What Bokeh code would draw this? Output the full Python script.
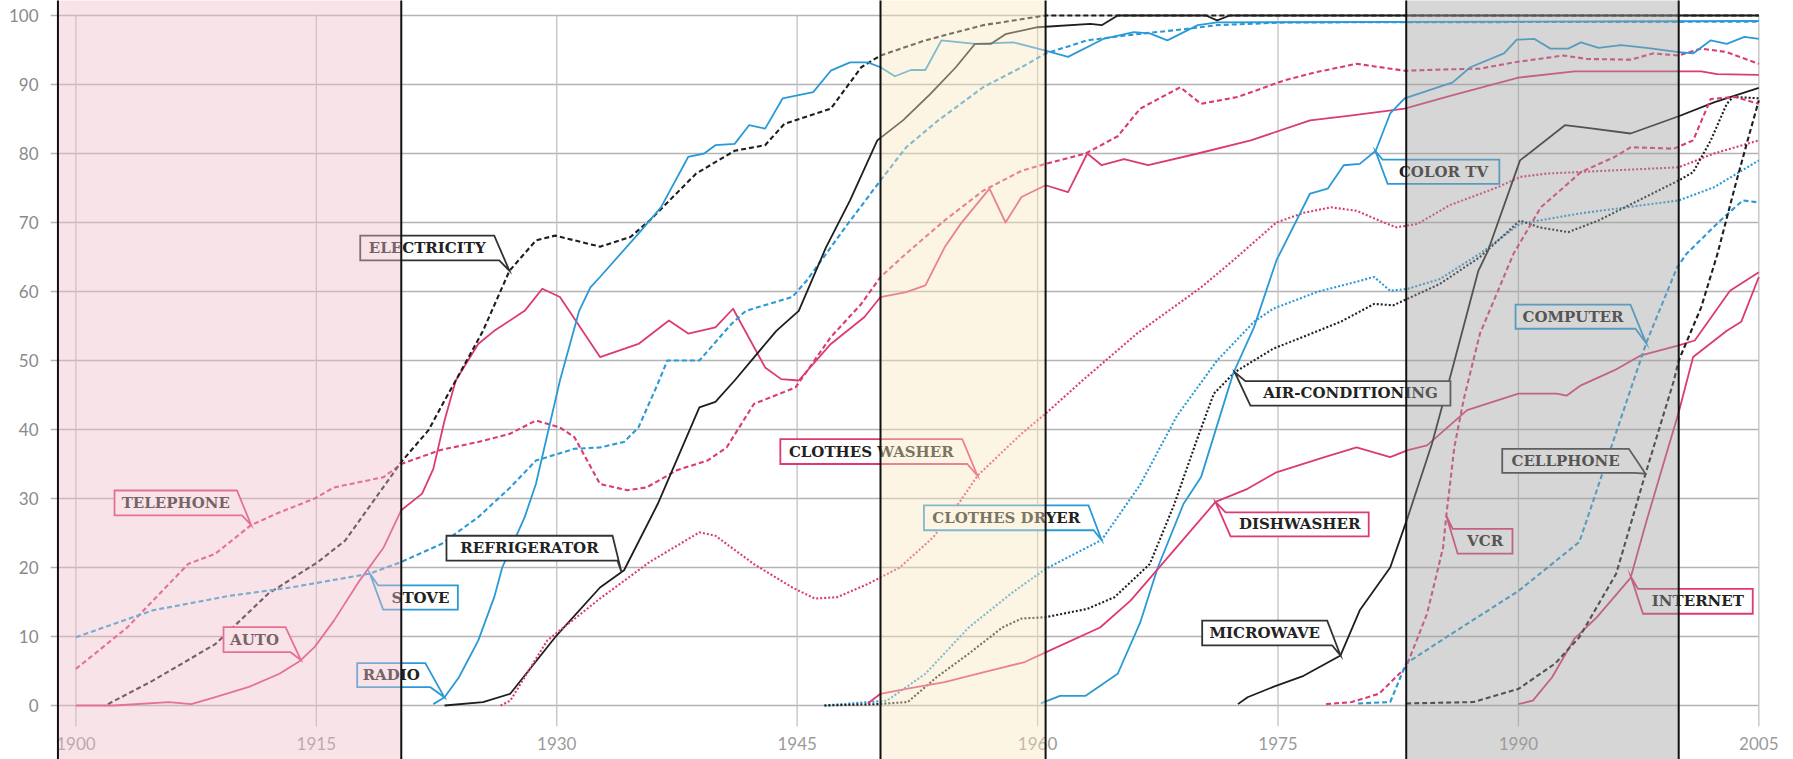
import numpy as np
from bokeh.plotting import figure
from bokeh.models import Range1d, FixedTicker
from bokeh.core.properties import value
from bokeh.embed import file_html
from bokeh.resources import INLINE

# ---------------- data ----------------
YEAR_TICKS = [1900, 1915, 1930, 1945, 1960, 1975, 1990, 2005]
PCT_TICKS = [0, 10, 20, 30, 40, 50, 60, 70, 80, 90, 100]

TELEPHONE = [(1900, 5.3), (1903.2, 11.3), (1907.0, 20.5), (1908.7, 22.0), (1910.9, 26.1), (1912.5, 27.8),
             (1914.9, 30.0), (1916.1, 31.6), (1919.2, 33.1), (1920.3, 35.0), (1922.7, 37.0), (1925.1, 38.2),
             (1927.1, 39.4), (1928.7, 41.3), (1930.2, 40.3), (1931.1, 38.9), (1932.7, 32.1), (1934.4, 31.2),
             (1935.6, 31.6), (1937.5, 34.1), (1939.4, 35.5), (1940.6, 37.4), (1942.3, 43.7), (1944.9, 46.1),
             (1947.1, 53.4), (1949.0, 58.2), (1950.2, 62.1), (1951.8, 65.5), (1954.2, 70.3), (1956.6, 74.6),
             (1959.0, 77.5), (1960.5, 78.5), (1963.0, 80.0), (1965.0, 82.5), (1966.4, 86.5), (1968.9, 89.6),
             (1970.2, 87.2), (1972.5, 88.2), (1975.4, 90.6), (1977.4, 91.8), (1979.9, 93.0), (1982.9, 92.0),
             (1985.8, 92.2), (1987.6, 92.3), (1989.7, 93.2), (1992.8, 94.2), (1994.3, 93.7), (1997.0, 93.6),
             (1998.4, 94.5), (2000.0, 94.2), (2001.4, 95.2), (2003.0, 94.7), (2005, 93.0)]

AUTO = [(1900, 0.0), (1902.4, 0.0), (1905.8, 0.5), (1907.2, 0.2), (1908.7, 1.2), (1910.8, 2.7), (1912.7, 4.6),
        (1914.0, 6.5), (1914.9, 8.5), (1916.1, 12.3), (1917.7, 18.1), (1919.2, 22.9), (1920.3, 28.3),
        (1921.6, 30.7), (1922.3, 34.3), (1923.0, 41.3), (1923.7, 47.1), (1925.1, 52.4), (1926.1, 54.3),
        (1928.0, 57.2), (1929.1, 60.4), (1930.2, 59.2), (1932.7, 50.5), (1935.1, 52.4), (1937.0, 55.8),
        (1938.2, 53.9), (1939.9, 54.8), (1941.0, 57.5), (1943.0, 49.0), (1944.0, 47.3), (1945.1, 47.1),
        (1947.1, 52.4), (1949.2, 56.3), (1950.2, 59.2), (1951.8, 59.9), (1953.0, 60.9), (1954.2, 66.4),
        (1955.2, 69.8), (1957.0, 74.9), (1958.0, 70.0), (1959.0, 73.7), (1960.5, 75.4), (1961.9, 74.4),
        (1963.1, 80.0), (1964.0, 78.3), (1965.4, 79.2), (1966.9, 78.3), (1970.0, 80.0), (1973.3, 81.9),
        (1977.0, 84.8), (1979.5, 85.5), (1982.9, 86.5), (1985.8, 88.4), (1990.0, 91.0), (1993.5, 91.9),
        (2000.0, 91.9), (2001.4, 91.9), (2002.4, 91.5), (2005, 91.4)]

ELECTRICITY = [(1902.0, 0.2), (1904.8, 3.6), (1908.7, 8.9), (1912.0, 16.2), (1915.1, 20.8), (1916.8, 23.9),
               (1920.3, 35.3), (1922.0, 39.9), (1923.0, 44.2), (1923.7, 47.1), (1925.4, 54.3), (1927.05, 63.0),
               (1928.7, 67.4), (1929.9, 68.1), (1932.7, 66.5), (1934.6, 67.9), (1935.8, 70.3), (1938.7, 77.1),
               (1941.1, 80.4), (1943.0, 81.2), (1944.2, 84.3), (1947.1, 86.5), (1949.0, 92.5), (1950.2, 94.2),
               (1953.0, 96.4), (1956.6, 98.6), (1960.5, 100.0), (2005, 100.0)]

STOVE = [(1900, 9.9), (1904.8, 13.8), (1909.6, 15.9), (1913.4, 17.1), (1918.3, 19.1), (1920.3, 20.8),
         (1922.8, 23.4), (1925.1, 27.3), (1927.1, 31.6), (1928.7, 35.5), (1931.1, 37.2), (1932.7, 37.4),
         (1934.2, 38.2), (1935.1, 40.3), (1936.3, 46.6), (1936.9, 50.0), (1938.9, 50.0), (1940.9, 55.3),
         (1941.8, 57.2), (1944.7, 59.2), (1945.6, 61.6), (1948.0, 69.3), (1950.2, 76.1), (1951.8, 80.9),
         (1953.8, 84.8), (1956.6, 89.6), (1959.0, 92.5), (1960.5, 94.5), (1963.1, 96.4), (1966.2, 97.3),
         (1969.1, 98.0), (1971.2, 98.6), (1975.4, 99.0), (2005, 99.1)]

RADIO = [(1922.3, 0.2), (1923.0, 1.2), (1923.9, 4.1), (1925.1, 9.4), (1926.1, 15.7), (1926.6, 20.0),
         (1928.0, 27.3), (1928.7, 32.1), (1930.2, 47.1), (1931.4, 57.2), (1932.1, 60.6), (1932.7, 62.1),
         (1935.1, 68.4), (1936.5, 72.2), (1938.2, 79.5), (1939.2, 80.0), (1939.9, 81.2), (1941.1, 81.4),
         (1942.0, 84.1), (1943.0, 83.6), (1944.1, 88.0), (1946.0, 88.9), (1947.1, 92.0), (1948.3, 93.2),
         (1949.4, 93.2), (1950.2, 92.5), (1951.1, 91.2), (1952.1, 92.1), (1953.0, 92.1), (1954.0, 96.4),
         (1956.1, 95.9), (1958.5, 96.1), (1960.5, 94.9), (1961.9, 94.0), (1964.1, 96.6), (1966.0, 97.6),
         (1967.0, 97.4), (1968.1, 96.4), (1970.0, 98.6), (1971.2, 99.0), (2005, 99.2)]

REFRIGERATOR = [(1923.0, 0.0), (1925.4, 0.5), (1927.1, 1.7), (1929.9, 9.9), (1932.7, 17.1), (1934.2, 19.6),
                (1936.3, 29.2), (1938.9, 43.2), (1939.9, 44.0), (1941.1, 47.1), (1943.7, 54.3), (1945.1, 57.2),
                (1946.8, 66.4), (1948.3, 73.2), (1950.0, 81.9), (1951.6, 84.8), (1953.3, 88.6), (1954.9, 92.5),
                (1956.1, 95.9), (1957.1, 95.9), (1958.0, 97.3), (1960.0, 98.3), (1963.3, 98.8), (1964.0, 98.6),
                (1965.0, 100.0), (1970.5, 100.0), (1971.2, 99.3), (1972.0, 100.0), (2005, 100.0)]

CLOTHES_WASHER = [(1926.5, 0.0), (1927.1, 0.7), (1929.4, 9.4), (1932.7, 15.5), (1935.8, 20.8), (1938.9, 25.1),
                  (1939.9, 24.6), (1942.3, 20.5), (1944.7, 17.1), (1946.1, 15.5), (1947.5, 15.7), (1949.4, 17.6),
                  (1951.4, 20.0), (1953.5, 24.4), (1955.2, 29.7), (1956.25, 33.3), (1959.0, 39.4), (1960.5, 42.3),
                  (1962.8, 47.1), (1966.2, 53.9), (1970.2, 60.6), (1972.2, 64.5), (1974.9, 70.0), (1976.6, 71.4),
                  (1978.3, 72.2), (1979.9, 71.7), (1981.6, 70.0), (1982.4, 69.3), (1983.7, 69.8), (1985.7, 72.5),
                  (1988.7, 75.1), (1990.1, 76.6), (1991.8, 77.1), (2000.0, 78.0), (2002.2, 80.0), (2005, 81.9)]

CLOTHES_DRYER = [(1946.7, 0.0), (1950.6, 0.7), (1953.0, 4.6), (1955.7, 11.3), (1958.5, 16.5), (1960.5, 19.8),
                 (1964.0, 24.0), (1966.4, 32.0), (1968.7, 42.0), (1971.2, 50.0), (1973.5, 55.6), (1974.7, 57.5),
                 (1977.4, 59.9), (1981.0, 62.1), (1982.0, 60.1), (1983.1, 60.4), (1985.1, 61.8), (1987.6, 65.5),
                 (1990.1, 69.8), (1993.8, 71.3), (2000.0, 73.2), (2002.2, 75.1), (2005, 79.0)]

AIR_CONDITIONING = [(1946.7, 0.0), (1950.0, 0.2), (1951.9, 0.5), (1953.7, 4.1), (1955.7, 7.5), (1957.8, 11.3),
                    (1959.0, 12.6), (1960.5, 12.8), (1963.1, 14.0), (1964.8, 15.7), (1967.0, 20.5), (1968.5, 29.0),
                    (1970.0, 38.9), (1971.0, 45.2), (1972.3, 48.3), (1974.7, 51.7), (1978.9, 55.6), (1981.0, 58.2),
                    (1982.2, 58.0), (1985.1, 61.1), (1987.6, 65.0), (1990.1, 70.3), (1991.3, 69.3), (1993.1, 68.6),
                    (1995.0, 70.3), (2000.0, 76.1), (2000.9, 77.3), (2002.0, 81.9), (2003.0, 87.2), (2003.4, 88.2),
                    (2005, 88.0)]

COLOR_TV = [(1960.2, 0.3), (1961.4, 1.4), (1963.0, 1.4), (1965.0, 4.6), (1966.4, 12.0), (1967.5, 20.0),
            (1969.1, 29.2), (1970.2, 33.1), (1972.2, 48.1), (1973.5, 54.8), (1974.9, 64.5), (1977.0, 74.2),
            (1978.1, 74.9), (1979.1, 78.3), (1980.1, 78.5), (1981.1, 80.4), (1982.0, 85.8), (1982.9, 88.0),
            (1985.9, 90.3), (1987.0, 92.5), (1989.1, 94.5), (1989.9, 96.5), (1991.0, 96.6), (1992.0, 95.2),
            (1993.1, 95.2), (1993.9, 96.1), (1995.0, 95.3), (1996.4, 95.7), (1998.0, 95.3), (2000.0, 94.7),
            (2000.9, 94.5), (2002.0, 96.4), (2003.0, 95.9), (2004.1, 96.9), (2005, 96.6)]

DISHWASHER = [(1949.4, 0.3), (1950.2, 1.7), (1951.8, 2.4), (1954.2, 3.4), (1956.6, 4.8), (1959.2, 6.3),
              (1960.5, 7.7), (1963.9, 11.3), (1965.8, 15.2), (1967.7, 20.3), (1971.1, 29.5), (1973.1, 31.4),
              (1974.9, 33.8), (1977.9, 36.0), (1979.9, 37.4), (1982.0, 36.0), (1983.1, 37.0), (1984.3, 37.7),
              (1986.8, 42.8), (1990.0, 45.2), (1992.4, 45.2), (1993.0, 44.9), (1993.9, 46.4), (1996.0, 48.6),
              (1997.6, 50.7), (2000.0, 52.2), (2001.0, 52.9), (2003.2, 60.1), (2005, 62.8)]

INTERNET = [(1990.0, 0.2), (1990.9, 0.7), (1992.1, 4.1), (1993.5, 9.7), (1994.9, 12.8), (1997.0, 18.5),
            (1998.0, 26.8), (2000.0, 42.5), (2000.9, 50.5), (2003.0, 54.3), (2003.9, 55.6), (2005, 62.1)]

MICROWAVE = [(1972.5, 0.2), (1973.1, 1.2), (1974.7, 2.7), (1976.6, 4.3), (1978.9, 7.25), (1980.1, 13.8),
             (1982.0, 20.0), (1983.1, 27.3), (1984.6, 37.9), (1985.8, 48.1), (1987.5, 63.0), (1988.1, 65.9),
             (1990.1, 79.0), (1992.9, 84.1), (1994.3, 83.7), (1997.0, 82.9), (2000.0, 85.4), (2002.2, 87.4),
             (2005, 89.5)]

VCR = [(1978.0, 0.2), (1979.6, 0.5), (1981.3, 1.7), (1983.0, 5.6), (1984.3, 13.3), (1985.3, 22.9),
       (1985.5, 27.5), (1986.0, 37.4), (1986.6, 44.5), (1987.6, 53.9), (1989.7, 65.5), (1991.4, 72.2),
       (1993.9, 77.3), (1996.0, 79.5), (1997.0, 80.9), (1999.7, 80.7), (2000.9, 81.9), (2002.0, 87.9),
       (2003.5, 88.2), (2005, 87.2)]

COMPUTER = [(1980.0, 0.3), (1982.0, 0.5), (1983.0, 6.1), (1985.5, 9.9), (1990.0, 16.6), (1993.8, 23.7),
            (1994.5, 28.5), (1996.0, 38.9), (1998.0, 52.7), (1999.9, 63.5), (2000.5, 65.5), (2002.6, 70.3),
            (2004.0, 73.2), (2005, 72.9)]

CELLPHONE = [(1983.0, 0.3), (1987.2, 0.5), (1990.0, 2.4), (1992.3, 6.1), (1993.8, 9.9), (1996.1, 19.1),
             (1997.8, 32.6), (1999.7, 47.1), (2000.0, 50.0), (2001.4, 57.7), (2002.4, 65.3), (2003.5, 75.1),
             (2004.3, 81.9), (2005, 87.7)]

# era bands (start year, end year)
ERA_PINK = (1898.88, 1920.3)
ERA_YELLOW = (1950.2, 1960.5)
ERA_GRAY = (1983.0, 2000.0)

# ---------------- styles ----------------
PINK = "#dc3a76"
BLUE = "#2a9ad6"
BLACK = "#1e1e1e"
DASH = "5 3"
DOT = "2 2"

SERIES = [
    ("TELEPHONE", TELEPHONE, PINK, DASH),
    ("AUTO", AUTO, PINK, "solid"),
    ("ELECTRICITY", ELECTRICITY, BLACK, DASH),
    ("STOVE", STOVE, BLUE, DASH),
    ("RADIO", RADIO, BLUE, "solid"),
    ("REFRIGERATOR", REFRIGERATOR, BLACK, "solid"),
    ("CLOTHES WASHER", CLOTHES_WASHER, PINK, DOT),
    ("CLOTHES DRYER", CLOTHES_DRYER, BLUE, DOT),
    ("AIR-CONDITIONING", AIR_CONDITIONING, BLACK, DOT),
    ("COLOR TV", COLOR_TV, BLUE, "solid"),
    ("DISHWASHER", DISHWASHER, PINK, "solid"),
    ("INTERNET", INTERNET, PINK, "solid"),
    ("MICROWAVE", MICROWAVE, BLACK, "solid"),
    ("VCR", VCR, PINK, DASH),
    ("COMPUTER", COMPUTER, BLUE, DASH),
    ("CELLPHONE", CELLPHONE, BLACK, DASH),
]

# callout layout: name, box left/right (year), box top/bottom (%), pointer year, tail side
CALLOUTS = [
    ("TELEPHONE", 1902.41, 1910.05, 31.16, 27.54, 1910.94, "br"),
    ("AUTO", 1909.21, 1913.08, 11.35, 7.73, 1914.04, "br"),
    ("ELECTRICITY", 1917.74, 1926.10, 68.1, 64.5, 1927.05, "br"),
    ("STOVE", 1919.17, 1923.83, 17.4, 13.9, 1918.34, "tl"),
    ("RADIO", 1917.55, 1921.80, 6.14, 2.66, 1922.99, "br"),
    ("REFRIGERATOR", 1923.12, 1933.48, 24.6, 21.0, 1934.04, "br"),
    ("CLOTHES WASHER", 1943.95, 1955.30, 38.6, 35.0, 1956.25, "br"),
    ("CLOTHES DRYER", 1952.91, 1963.18, 29.0, 25.4, 1963.99, "br"),
    ("AIR-CONDITIONING", 1973.28, 1985.76, 47.0, 43.45, 1972.3, "tl"),
    ("DISHWASHER", 1972.04, 1980.66, 28.0, 24.5, 1971.1, "tl"),
    ("MICROWAVE", 1970.27, 1978.07, 12.3, 8.7, 1978.9, "br"),
    ("COLOR TV", 1981.84, 1988.81, 79.1, 75.6, 1981.08, "tl"),
    ("VCR", 1986.21, 1989.63, 25.6, 22.0, 1985.5, "tl"),
    ("COMPUTER", 1989.82, 1996.99, 58.1, 54.6, 1997.97, "br"),
    ("CELLPHONE", 1988.99, 1996.89, 37.2, 33.7, 1997.93, "br"),
    ("INTERNET", 1997.77, 2004.62, 16.9, 13.3, 1997.02, "tl"),
]

# ---------------- figure ----------------
W, H = 1793, 759
LEFT = 50
PX_PER_YEAR = 16.028
PX_PER_PCT = 6.9
X0 = 1900 + (LEFT - 75.4) / PX_PER_YEAR
X1 = X0 + (W - LEFT) / PX_PER_YEAR
Y1 = 100 + 15 / PX_PER_PCT
Y0 = Y1 - H / PX_PER_PCT

p = figure(width=W, height=H, x_range=Range1d(X0, X1), y_range=Range1d(Y0, Y1),
           output_backend="svg", toolbar_location=None, x_axis_location=None,
           min_border_left=LEFT, min_border_right=0, min_border_top=0, min_border_bottom=0)
p.grid.visible = False
p.outline_line_color = None
p.background_fill_color = "white"
p.border_fill_color = "white"

ax = p.yaxis[0]
ax.ticker = FixedTicker(ticks=PCT_TICKS)
ax.axis_line_color = None
ax.major_tick_line_color = None
ax.minor_tick_line_color = None
ax.major_label_standoff = 6
ax.major_label_text_font = "Lato"
ax.major_label_text_font_size = "17px"
ax.major_label_text_color = "#8a8a8a"

GRID_X_END = YEAR_TICKS[-1]
# horizontal gridlines
p.segment(x0=[X0] * len(PCT_TICKS), y0=PCT_TICKS, x1=[GRID_X_END] * len(PCT_TICKS), y1=PCT_TICKS,
          line_color="#b4b4b4", line_width=1.6)
# vertical gridlines
p.segment(x0=YEAR_TICKS, y0=[PCT_TICKS[-1]] * len(YEAR_TICKS), x1=YEAR_TICKS, y1=[-3.0] * len(YEAR_TICKS),
          line_color="#c2c2c2", line_width=1.3)

# x tick labels
p.text(x=YEAR_TICKS, y=[-5.5] * len(YEAR_TICKS), text=[str(t) for t in YEAR_TICKS],
       text_font=value("Lato"), text_font_size="17px", text_color="#9a9a9a",
       text_align="center", text_baseline="middle")

series_lookup = {}
for name, pts, color, dash in SERIES:
    xs = [a for a, b in pts]
    ys = [b for a, b in pts]
    series_lookup[name] = (xs, ys, color)
    lw = 1.8 if dash == "solid" else 2.1
    p.line(xs, ys, line_color=color, line_width=lw, line_dash=dash, line_join="round")

# callouts
dx = 5.0 / PX_PER_YEAR
px_list, py_list, tx, ty, tt, lc = [], [], [], [], [], []
for name, L, R, T, B, pyear, tail in CALLOUTS:
    xs, ys, color = series_lookup[name]
    ptr_y = float(np.interp(pyear, xs, ys))
    if tail == "br":
        vx = [L, R, pyear, R + dx, L]
        vy = [T, T, ptr_y, B, B]
    else:
        vx = [pyear, L - dx, R, R, L]
        vy = [ptr_y, T, T, B, B]
    px_list.append(vx)
    py_list.append(vy)
    tx.append((L + R) / 2)
    ty.append((T + B) / 2)
    tt.append(name)
    lc.append("#333333" if color == BLACK else color)

p.patches(xs=px_list, ys=py_list, fill_color="white", line_color=lc, line_width=1.8, line_join="miter")
p.text(x=tx, y=ty, text=tt, text_font=value("DejaVu Serif"), text_font_style="bold",
       text_font_size="15px", text_color="#222222", text_align="center", text_baseline="middle")

# era overlays (translucent, drawn on top)
p.quad(left=[ERA_PINK[0]], right=[ERA_PINK[1]], bottom=[Y0 - 1], top=[Y1 + 1],
       fill_color="#eebfc8", fill_alpha=0.42, line_color=None)
p.quad(left=[ERA_YELLOW[0]], right=[ERA_YELLOW[1]], bottom=[Y0 - 1], top=[Y1 + 1],
       fill_color="#fae7bf", fill_alpha=0.42, line_color=None)
p.quad(left=[ERA_GRAY[0]], right=[ERA_GRAY[1]], bottom=[Y0 - 1], top=[Y1 + 1],
       fill_color="#9d9d9d", fill_alpha=0.42, line_color=None)

edges = [ERA_PINK[0], ERA_PINK[1], ERA_YELLOW[0], ERA_YELLOW[1], ERA_GRAY[0], ERA_GRAY[1]]
p.segment(x0=edges, y0=[Y0 - 1] * len(edges), x1=edges, y1=[Y1 + 1] * len(edges),
          line_color="#111111", line_width=2)

open("out.html", "w").write(file_html(p, INLINE))
